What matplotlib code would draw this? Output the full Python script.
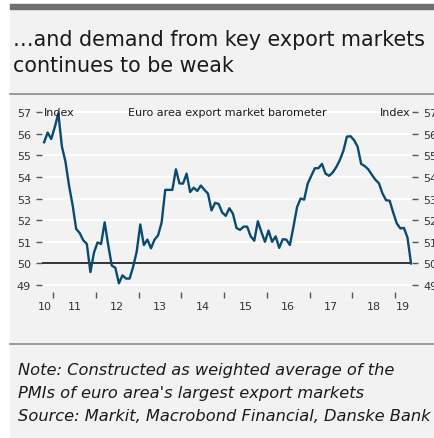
import numpy as np
import matplotlib.pyplot as plt
from matplotlib.patches import Rectangle
from matplotlib.lines import Line2D
from matplotlib.ticker import FixedLocator, NullFormatter, FixedFormatter

# Euro area export market barometer, monthly index, Oct 2010 - May 2019
barometer = [
    55.6, 56.05, 55.75, 56.3, 56.94, 55.4, 54.7, 53.6, 52.7, 51.6, 51.4, 51.07,
    50.9, 49.6, 50.5, 50.97, 50.9, 51.9, 50.85, 49.9, 49.8, 49.08, 49.45, 49.3,
    49.3, 49.85, 50.55, 51.8, 50.85, 51.1, 50.7, 51.1, 51.3, 51.9, 53.4, 53.4,
    53.4, 54.35, 53.7, 53.69, 54.15, 53.3, 53.5, 53.35, 53.6, 53.4, 53.23, 52.45,
    52.8, 52.75, 52.35, 52.2, 52.55, 52.3, 51.64, 51.55, 51.7, 51.7, 51.25, 51.05,
    51.95, 51.45, 51.0, 51.52, 51.0, 51.25, 50.72, 51.12, 51.1, 50.85, 51.7, 52.6,
    53.0, 52.95, 53.69, 54.05, 54.4, 54.4, 54.6, 54.15, 54.05, 54.2, 54.45, 54.77,
    55.2, 55.86, 55.88, 55.7, 55.4, 54.6, 54.5, 54.35, 54.1, 53.87, 53.7, 53.23,
    52.92, 52.9, 52.35, 51.85, 51.62, 51.64, 51.2, 50.0,
]
start_year, start_month = 2010, 10
y_ticks = [49, 50, 51, 52, 53, 54, 55, 56, 57]
year_labels = ["10", "11", "12", "13", "14", "15", "16", "17", "18", "19"]

W, H = 435, 439
fig = plt.figure(figsize=(W / 100, H / 100), dpi=100, facecolor="white")

def fx(px):
    return px / W

def fy(py):
    return 1 - py / H

bg = "#f2f2f2"
fig.patches.append(Rectangle((fx(10), 0), 1, fy(5), transform=fig.transFigure, color=bg, zorder=-10))
fig.patches.append(Rectangle((fx(10), fy(9.5)), 1, 4.5 / H, transform=fig.transFigure, color="#6f6f6f", zorder=-9))

fig.text(fx(13), fy(40), "\u2026and demand from key export markets", fontsize=14.9,
         color="#1a1a1a", va="center", ha="left")
fig.text(fx(13), fy(66), "continues to be weak", fontsize=14.9,
         color="#1a1a1a", va="center", ha="left")

fig.lines.append(Line2D([fx(10), 1], [fy(95), fy(95)], transform=fig.transFigure, color="#8a8a8a", lw=1.2))
fig.lines.append(Line2D([fx(10), 1], [fy(345), fy(345)], transform=fig.transFigure, color="#8a8a8a", lw=1.2))

note = ["Note: Constructed as weighted average of the",
        "PMIs of euro area's largest export markets",
        "Source: Markit, Macrobond Financial, Danske Bank"]
for i, line in enumerate(note):
    fig.text(fx(18), fy(371 + 23 * i), line, fontsize=11.7, style="italic",
             color="#1a1a1a", va="center", ha="left")

# x positions: decimal years, mid-month
x = np.array([start_year + (start_month - 0.5 + i) / 12 for i in range(len(barometer))])

left, right, top, bottom = 42, 412, 109.3, 293
ax = fig.add_axes([fx(left), fy(bottom), (right - left) / W, (bottom - top) / H])
ax.set_facecolor(bg)
ax.patch.set_alpha(0)
for s in ax.spines.values():
    s.set_visible(False)

px_per_year = 42.75
ax.set_xlim(2011 + (left - 53) / px_per_year, 2011 + (right - 53) / px_per_year)
ax.set_ylim(48.68, 57.17)

for v in y_ticks:
    if v == 50:
        continue
    ax.axhline(v, color="white", lw=1.4, zorder=1)
ax.axhline(50, color="#333333", lw=1.4, zorder=2)

ax.plot(x, barometer, color="#0b4a70", lw=1.7, zorder=3)

ax.set_yticks(y_ticks)
ax.tick_params(axis="y", which="both", left=True, right=True, labelleft=True, labelright=True,
               length=4, width=1, color="#555555", labelsize=8, labelcolor="#333333", pad=4)

ax.xaxis.set_major_locator(FixedLocator(list(range(2011, 2020))))
ax.xaxis.set_major_formatter(NullFormatter())
label_pos = [2010.82] + [yr + 0.5 for yr in range(2011, 2019)] + [2019.19]
ax.xaxis.set_minor_locator(FixedLocator(label_pos))
ax.xaxis.set_minor_formatter(FixedFormatter(year_labels))
ax.tick_params(axis="x", which="major", length=4, width=1, color="#555555")
ax.tick_params(axis="x", which="minor", length=0, labelsize=8, labelcolor="#333333", pad=6.5)

ax.text(0.005, 57, "Index", fontsize=8, color="#1a1a1a", va="center", ha="left",
        transform=ax.get_yaxis_transform())
ax.text(0.995, 57, "Index", fontsize=8, color="#1a1a1a", va="center", ha="right",
        transform=ax.get_yaxis_transform())
ax.text(0.5, 57, "Euro area export market barometer", fontsize=8, color="#1a1a1a",
        va="center", ha="center", transform=ax.get_yaxis_transform())

fig.savefig("out.png", dpi=100, facecolor=fig.get_facecolor())
